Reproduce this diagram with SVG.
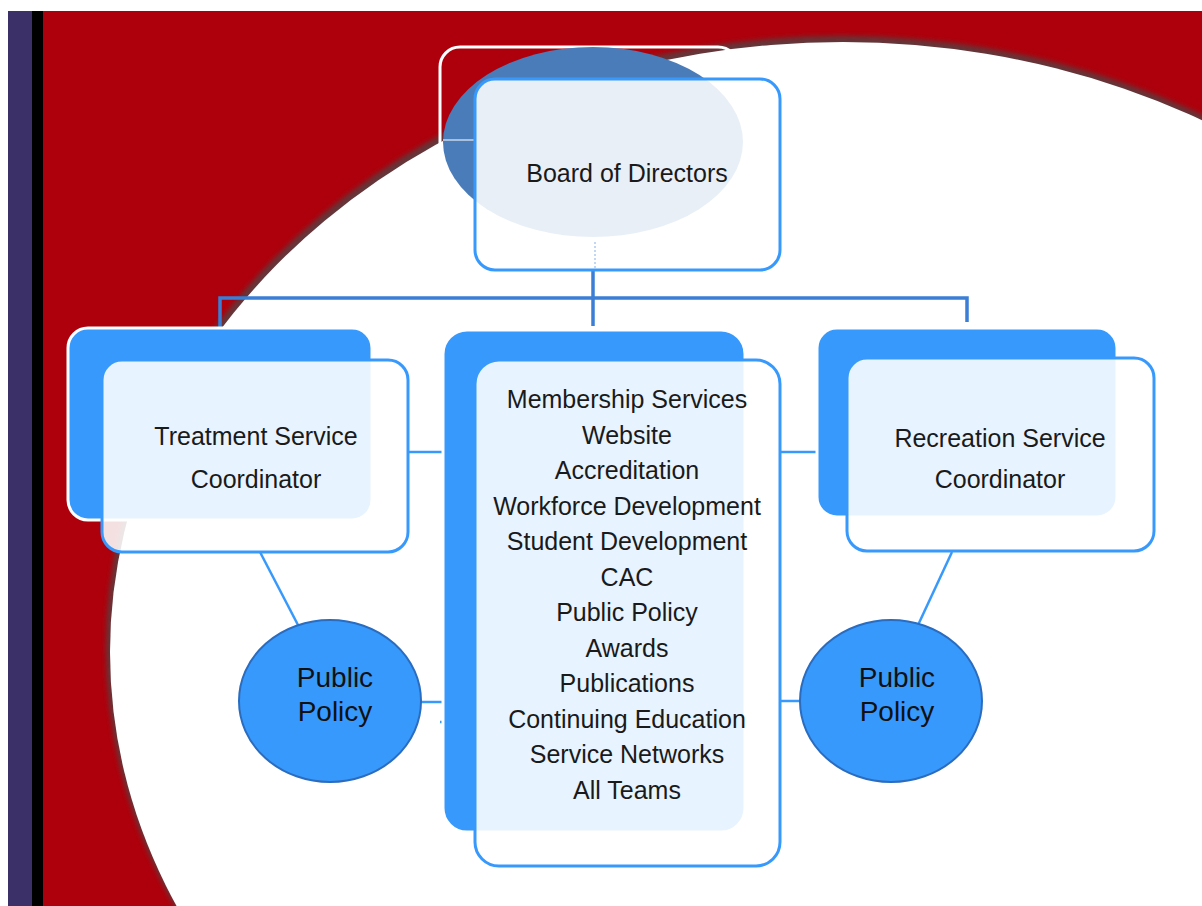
<svg xmlns="http://www.w3.org/2000/svg" width="1202" height="906" viewBox="0 0 1202 906">
<style>
.t{font-family:"Liberation Sans",Arial,sans-serif;font-size:25px;fill:#1a1a1a;text-anchor:middle}
.tp{font-family:"Liberation Sans",Arial,sans-serif;font-size:28px;fill:#111;text-anchor:middle}
.back{fill:#3899fc;stroke:#ffffff;stroke-width:3}
.front{fill:#ffffff;fill-opacity:0.88;stroke:#3899fc;stroke-width:3}
.ln{stroke:#3899fc;stroke-width:2.5;fill:none}
.tree{stroke:#3a7fd5;stroke-width:3.5;fill:none}
.pp{fill:#3899fc;stroke:#2a6cbf;stroke-width:2}
</style>
<defs>
<clipPath id="redclip"><rect x="43" y="11" width="1159" height="895"/></clipPath>
<filter id="blur" x="-10%" y="-10%" width="120%" height="120%"><feGaussianBlur stdDeviation="2.5"/></filter>
</defs>
<rect x="0" y="0" width="1202" height="906" fill="#ffffff"/>
<g id="background">
<rect x="8" y="11" width="25" height="895" fill="#3b3168"/>
<rect x="32" y="11" width="11" height="895" fill="#000000"/>
<rect x="43" y="11" width="1159" height="895" fill="#ae000c"/>
<g clip-path="url(#redclip)">
<ellipse cx="841" cy="648" rx="735" ry="612" fill="#4a4a4a" opacity="0.75" filter="url(#blur)"/>
<ellipse cx="843" cy="652" rx="733" ry="610" fill="#ffffff"/>
</g>
</g>
<g id="connectors">
<line class="tree" x1="593" y1="270" x2="593" y2="326" stroke-width="5"/>
<polyline class="tree" points="220,327 220,298 967,298 967,322"/>
<line class="ln" x1="408" y1="452" x2="478" y2="452"/>
<line class="ln" x1="780" y1="452" x2="850" y2="452"/>
<line class="ln" x1="260" y1="552" x2="298" y2="625"/>
<line class="ln" x1="952" y1="552" x2="912" y2="638"/>
<line class="ln" x1="420" y1="702" x2="445" y2="702"/>
<line class="ln" x1="440" y1="722" x2="476" y2="722" stroke-width="1.5"/>
<line class="ln" x1="781" y1="701" x2="801" y2="701"/>
</g>
<g id="board">
<rect x="440" y="47" width="298" height="200" rx="20" fill="none" stroke="#ffffff" stroke-width="3"/>
<ellipse cx="593" cy="142" rx="150" ry="95" fill="#4a7cb9"/>
<line x1="443" y1="140" x2="476" y2="140" stroke="#c8d6ea" stroke-width="1.5"/>
<rect class="front" x="475" y="79" width="305" height="191" rx="20"/>
<line x1="595" y1="242" x2="595" y2="270" stroke="#c0d8f5" stroke-width="2" stroke-dasharray="2 2"/>
<text class="t" x="627" y="182">Board of Directors</text>
</g>
<g id="treatment">
<rect class="back" x="68" y="328" width="304" height="192" rx="20"/>
<rect class="front" x="102" y="360" width="306" height="192" rx="20"/>
<text class="t" x="256" y="445">Treatment Service</text>
<text class="t" x="256" y="488">Coordinator</text>
</g>
<g id="functions">
<rect class="back" x="443" y="330" width="302" height="502" rx="24" stroke="none"/>
<rect class="front" x="475" y="360" width="305" height="506" rx="24"/>
<text class="t" x="627" y="408">Membership Services</text>
<text class="t" x="627" y="443.5">Website</text>
<text class="t" x="627" y="479">Accreditation</text>
<text class="t" x="627" y="514.5">Workforce Development</text>
<text class="t" x="627" y="550">Student Development</text>
<text class="t" x="627" y="585.5">CAC</text>
<text class="t" x="627" y="621">Public Policy</text>
<text class="t" x="627" y="656.5">Awards</text>
<text class="t" x="627" y="692">Publications</text>
<text class="t" x="627" y="727.5">Continuing Education</text>
<text class="t" x="627" y="763">Service Networks</text>
<text class="t" x="627" y="798.5">All Teams</text>
</g>
<g id="recreation">
<rect class="back" x="817" y="328" width="300" height="189" rx="20" stroke="none"/>
<rect class="front" x="847" y="358" width="307" height="193" rx="20"/>
<text class="t" x="1000" y="447">Recreation Service</text>
<text class="t" x="1000" y="488">Coordinator</text>
</g>
<g id="policy-left">
<ellipse class="pp" cx="330" cy="701" rx="91" ry="81"/>
<text class="tp" x="335" y="687">Public</text>
<text class="tp" x="335" y="721">Policy</text>
</g>
<g id="policy-right">
<ellipse class="pp" cx="891" cy="701" rx="91" ry="81"/>
<text class="tp" x="897" y="687">Public</text>
<text class="tp" x="897" y="721">Policy</text>
</g>
</svg>
